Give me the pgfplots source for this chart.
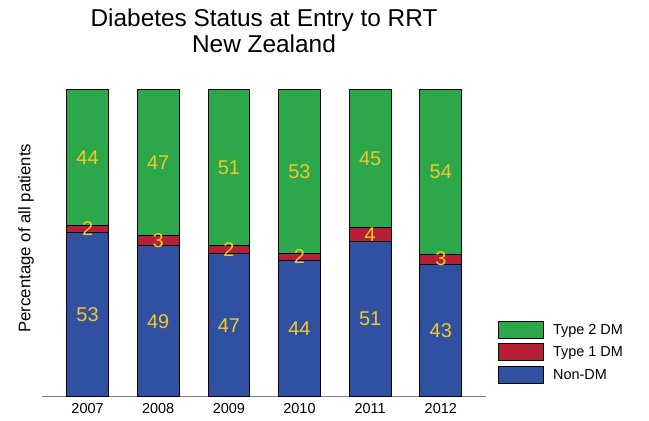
\documentclass[border=0pt]{standalone}
\usepackage{fontspec}
\setmainfont{Liberation Sans}
\usepackage{pgfplots}
\pgfplotsset{compat=1.18}
\definecolor{dmgreen}{RGB}{44,168,74}
\definecolor{dmred}{RGB}{183,30,56}
\definecolor{dmblue}{RGB}{48,80,162}
\definecolor{lblyellow}{RGB}{242,200,40}
\pgfplotsset{
  boxlegend/.style={legend image code/.code={
      \draw[##1,draw=black,line width=0.9bp] (0bp,-8.5bp) rectangle (45bp,8.5bp);
      \path (52bp,0bp);}},
}
\begin{document}
\begin{tikzpicture}
\begin{axis}[
  scale only axis, width=444bp, height=307.4bp,
  ybar stacked, bar width=41.7bp,
  xmin=-0.645, xmax=5.64, ymin=0, ymax=100,
  xtick={0,1,2,3,4,5}, xticklabels={2007,2008,2009,2010,2011,2012},
  ytick=\empty,
  axis x line=bottom, axis y line=left,
  x axis line style={-, draw=gray, line width=0.8bp},
  y axis line style={draw=none},
  xtick style={draw=none},
  xticklabel style={font=\fontsize{14.5}{16}\selectfont, yshift=-1.5bp},
  title={Diabetes Status at Entry to RRT\\New Zealand},
  title style={font=\fontsize{24.5}{25.5}\selectfont, align=center,
    at={(axis description cs:0.5,1)}, anchor=south, inner sep=0pt, yshift=30.8bp},
  ylabel={Percentage of all patients},
  ylabel style={font=\fontsize{16.8}{18}\selectfont, at={(axis description cs:0,0.516)},
    anchor=center, yshift=16bp, inner sep=0pt},
  reverse legend,
  legend cell align=left,
  legend style={draw=none, fill=none, at={(axis description cs:1.027,0.041)},
    anchor=south west, inner sep=0pt, row sep=4.6bp,
    font=\fontsize{14.5}{16}\selectfont, nodes={inner sep=2bp}},
]
\addplot[fill=dmblue, draw=black, line width=0.9bp, boxlegend] coordinates
  {(0,53.4) (1,49.1) (2,46.5) (3,44.2) (4,50.4) (5,43.1)};
\addlegendentry{Non-DM}
\addplot[fill=dmred, draw=black, line width=0.9bp, boxlegend] coordinates
  {(0,2.3) (1,3.5) (2,2.6) (3,2.5) (4,4.6) (5,3.3)};
\addlegendentry{Type 1 DM}
\addplot[fill=dmgreen, draw=black, line width=0.9bp, boxlegend] coordinates
  {(0,44.3) (1,47.4) (2,50.9) (3,53.3) (4,45.0) (5,53.6)};
\addlegendentry{Type 2 DM}
\end{axis}
\begin{axis}[
  scale only axis, width=444bp, height=307.4bp,
  xmin=-0.645, xmax=5.64, ymin=0, ymax=100,
  hide axis,
]
\addplot[draw=none, mark=none, nodes near coords, point meta=explicit symbolic,
  every node near coord/.append style={anchor=center, text=lblyellow,
    font=\fontsize{20}{22}\selectfont, inner sep=0pt}]
  coordinates {
  (0,26.7)[53] (1,24.55)[49] (2,23.25)[47] (3,22.1)[44] (4,25.2)[51] (5,21.55)[43]
  (0,54.55)[2] (1,50.85)[3] (2,47.8)[2] (3,45.45)[2] (4,52.7)[4] (5,44.75)[3]
  (0,77.85)[44] (1,76.3)[47] (2,74.55)[51] (3,73.35)[53] (4,77.5)[45] (5,73.2)[54]
  };
\end{axis}
\pgfresetboundingbox
\path (-42bp,-24.3bp) rectangle (607bp,396.7bp);
\end{tikzpicture}
\end{document}
